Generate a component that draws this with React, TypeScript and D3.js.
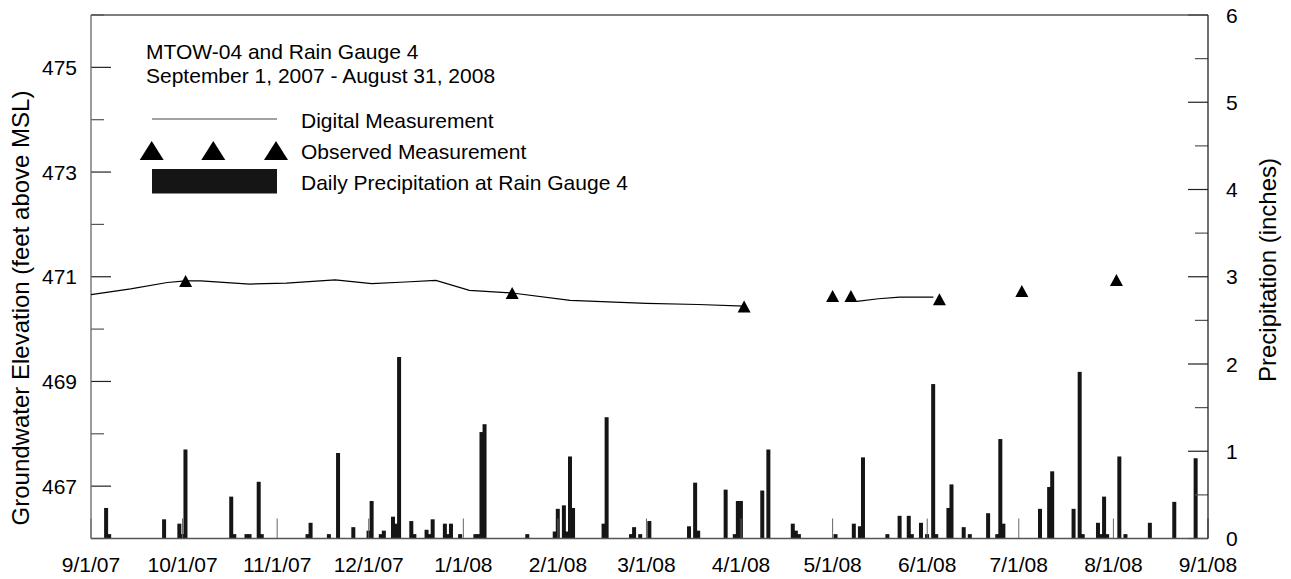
import React from 'react';
import * as d3 from 'd3';

// ---- Data ----
const xTickDates = ['2007-09-01','2007-10-01','2007-11-01','2007-12-01','2008-01-01','2008-02-01','2008-03-01','2008-04-01','2008-05-01','2008-06-01','2008-07-01','2008-08-01','2008-09-01'];
const xTickLabels = ['9/1/07','10/1/07','11/1/07','12/1/07','1/1/08','2/1/08','3/1/08','4/1/08','5/1/08','6/1/08','7/1/08','8/1/08','9/1/08'];
const leftMajorTicks = [467, 469, 471, 473, 475];
const leftMinorTicks = [466, 468, 470, 472, 474, 476];
const rightMajorTicks = [0, 1, 2, 3, 4, 5, 6];
const rightMinorTicks = [0.5, 1.5, 2.5, 3.5, 4.5, 5.5];

// Digital measurement (groundwater elevation, ft above MSL); null = gap in record
const digitalDates = ['2007-09-01','2007-09-14','2007-09-26','2007-10-02','2007-10-07','2007-10-23','2007-11-04','2007-11-20','2007-12-02','2007-12-13','2007-12-23','2008-01-03','2008-01-17','2008-02-05','2008-03-01','2008-03-18','2008-04-02','2008-04-20','2008-05-09','2008-05-16','2008-05-23','2008-06-03'];
const digitalElev: (number | null)[] = [470.66,470.77,470.89,470.92,470.92,470.86,470.88,470.94,470.87,470.90,470.93,470.74,470.69,470.55,470.49,470.47,470.44,null,470.53,470.58,470.61,470.61];

// Observed measurements
const observedDates = ['2007-10-02','2008-01-17','2008-04-02','2008-05-01','2008-05-07','2008-06-05','2008-07-02','2008-08-02'];
const observedElev = [470.92,470.69,470.43,470.63,470.63,470.57,470.73,470.94];

// Daily precipitation at Rain Gauge 4 (inches)
const precipDates = ['2007-09-05','2007-09-06','2007-09-24','2007-09-29','2007-09-30','2007-10-01','2007-10-16','2007-10-17','2007-10-21','2007-10-22','2007-10-25','2007-10-26','2007-11-10','2007-11-11','2007-11-17','2007-11-20','2007-11-25','2007-11-30','2007-12-01','2007-12-04','2007-12-05','2007-12-08','2007-12-09','2007-12-10','2007-12-14','2007-12-15','2007-12-19','2007-12-20','2007-12-21','2007-12-25','2007-12-26','2007-12-27','2007-12-30','2008-01-04','2008-01-05','2008-01-06','2008-01-07','2008-01-21','2008-01-30','2008-01-31','2008-02-02','2008-02-03','2008-02-04','2008-02-05','2008-02-15','2008-02-16','2008-02-24','2008-02-25','2008-02-27','2008-03-01','2008-03-14','2008-03-16','2008-03-17','2008-03-26','2008-03-29','2008-03-30','2008-03-31','2008-04-07','2008-04-09','2008-04-17','2008-04-18','2008-04-19','2008-05-01','2008-05-07','2008-05-09','2008-05-10','2008-05-18','2008-05-22','2008-05-25','2008-05-26','2008-05-29','2008-05-31','2008-06-02','2008-06-03','2008-06-07','2008-06-08','2008-06-12','2008-06-14','2008-06-20','2008-06-23','2008-06-24','2008-06-25','2008-07-07','2008-07-10','2008-07-11','2008-07-18','2008-07-20','2008-07-21','2008-07-26','2008-07-27','2008-07-28','2008-07-29','2008-08-02','2008-08-04','2008-08-12','2008-08-20','2008-08-27'];
const precipInches = [0.35,0.05,0.22,0.17,0.05,1.02,0.48,0.05,0.05,0.05,0.65,0.05,0.05,0.18,0.05,0.98,0.13,0.09,0.43,0.05,0.09,0.25,0.17,2.08,0.20,0.05,0.10,0.05,0.22,0.17,0.05,0.17,0.05,0.05,0.05,1.22,1.31,0.05,0.08,0.34,0.38,0.08,0.94,0.35,0.17,1.39,0.05,0.13,0.05,0.20,0.14,0.64,0.09,0.56,0.05,0.43,0.43,0.55,1.02,0.17,0.09,0.05,0.05,0.17,0.14,0.93,0.05,0.26,0.26,0.05,0.18,0.05,1.77,0.05,0.35,0.62,0.13,0.05,0.29,0.05,1.14,0.17,0.34,0.59,0.77,0.34,1.91,0.05,0.18,0.05,0.48,0.05,0.94,0.05,0.18,0.42,0.92];

const titleLines = ['MTOW-04 and Rain Gauge 4', 'September 1, 2007 - August 31, 2008'];
const legendLabels = ['Digital Measurement', 'Observed Measurement', 'Daily Precipitation at Rain Gauge 4'];
const leftAxisTitle = 'Groundwater Elevation (feet above MSL)';
const rightAxisTitle = 'Precipitation (inches)';

const FONT = '"Liberation Sans", Arial, Helvetica, sans-serif';

export default function App() {
  const W = 1291, H = 579;
  const L = 91, R = 1208, T = 15, B = 538.5;
  const parse = d3.timeParse('%Y-%m-%d');
  const x = d3.scaleTime().domain([parse('2007-09-01')!, parse('2008-09-01')!]).range([L, R]);
  const yL = d3.scaleLinear().domain([466, 476]).range([B, T]);
  const yR = d3.scaleLinear().domain([0, 6]).range([B, T]);

  const lineData = digitalDates.map((d, i) => ({ d: parse(d)!, v: digitalElev[i] }));
  const line = d3.line<{ d: Date; v: number | null }>()
    .defined(p => p.v !== null)
    .x(p => x(p.d))
    .y(p => yL(p.v as number));

  const tri = (cx: number, cy: number, w: number, h: number) =>
    `M${cx},${cy - h / 2}L${cx + w / 2},${cy + h / 2}L${cx - w / 2},${cy + h / 2}Z`;

  const tickFont = 21;
  const textFont = 21;

  return (
    <svg width={W} height={H} style={{ position: 'absolute', left: 0, top: 0, background: '#fff' }}
      fontFamily={FONT}>
      <rect x={0} y={0} width={W} height={H} fill="#fff" />

      {/* precipitation bars */}
      {precipDates.map((d, i) => {
        const v = precipInches[i];
        const bx = x(parse(d)!) + 0.9;
        return <rect key={'b' + i} x={bx} y={yR(v)} width={4} height={B - yR(v)} fill="#151515" />;
      })}

      {/* x ticks (inside) */}
      {xTickDates.map((d, i) => {
        const tx = x(parse(d)!);
        return <line key={'xt' + i} x1={tx} x2={tx} y1={B} y2={B - 20} stroke="#666" strokeWidth={1} />;
      })}

      {/* left ticks */}
      {leftMajorTicks.map(v => (
        <line key={'lm' + v} x1={L} x2={L + 20} y1={yL(v)} y2={yL(v)} stroke="#222" strokeWidth={1.2} />
      ))}
      {leftMinorTicks.map(v => (
        <line key={'ln' + v} x1={L} x2={L + 13} y1={yL(v)} y2={yL(v)} stroke="#555" strokeWidth={1.2} />
      ))}
      {/* right ticks */}
      {rightMajorTicks.map(v => (
        <line key={'rm' + v} x1={R - 20} x2={R} y1={yR(v)} y2={yR(v)} stroke="#222" strokeWidth={1.2} />
      ))}
      {rightMinorTicks.map(v => (
        <line key={'rn' + v} x1={R - 13} x2={R} y1={yR(v)} y2={yR(v)} stroke="#555" strokeWidth={1.2} />
      ))}

      {/* frame */}
      <line x1={L} x2={R} y1={T} y2={T} stroke="#555" strokeWidth={1.3} />
      <line x1={L} x2={R} y1={B} y2={B} stroke="#555" strokeWidth={1.3} />
      <line x1={L} x2={L} y1={T} y2={B} stroke="#666" strokeWidth={1.3} />
      <line x1={R} x2={R} y1={T} y2={B} stroke="#222" strokeWidth={1.3} />

      {/* digital line */}
      <path d={line(lineData) || ''} fill="none" stroke="#000" strokeWidth={1.2} />

      {/* observed triangles */}
      {observedDates.map((d, i) => (
        <path key={'o' + i} d={tri(x(parse(d)!), yL(observedElev[i]), 13, 12)} fill="#000" />
      ))}

      {/* tick labels */}
      {leftMajorTicks.map(v => (
        <text key={'ll' + v} x={77} y={yL(v) + 7.5} textAnchor="end" fontSize={tickFont} fill="#000">{v}</text>
      ))}
      {rightMajorTicks.map(v => (
        <text key={'rl' + v} x={1226} y={yR(v) + 7.5} textAnchor="start" fontSize={tickFont} fill="#000">{v}</text>
      ))}
      {xTickDates.map((d, i) => (
        <text key={'xl' + i} x={x(parse(d)!)} y={571.5} textAnchor="middle" fontSize={tickFont} fill="#000">{xTickLabels[i]}</text>
      ))}

      {/* axis titles */}
      <text transform={`translate(29,308) rotate(-90)`} textAnchor="middle" fontSize={24} fill="#000">{leftAxisTitle}</text>
      <text transform={`translate(1276,270) rotate(-90)`} textAnchor="middle" fontSize={24} fill="#000">{rightAxisTitle}</text>

      {/* title */}
      <text x={146} y={58.5} fontSize={textFont} fill="#000">{titleLines[0]}</text>
      <text x={146} y={82.5} fontSize={textFont} fill="#000">{titleLines[1]}</text>

      {/* legend */}
      <line x1={152} x2={277} y1={119} y2={119} stroke="#444" strokeWidth={1} />
      {[151.7, 213.3, 276].map((cx, i) => (
        <path key={'lt' + i} d={tri(cx, 150.5, 24, 19)} fill="#000" />
      ))}
      <rect x={152} y={169} width={125} height={24.5} fill="#151515" />
      <text x={301} y={127.7} fontSize={textFont} fill="#000">{legendLabels[0]}</text>
      <text x={301} y={158.5} fontSize={textFont} fill="#000">{legendLabels[1]}</text>
      <text x={301} y={190} fontSize={textFont} fill="#000">{legendLabels[2]}</text>
    </svg>
  );
}
